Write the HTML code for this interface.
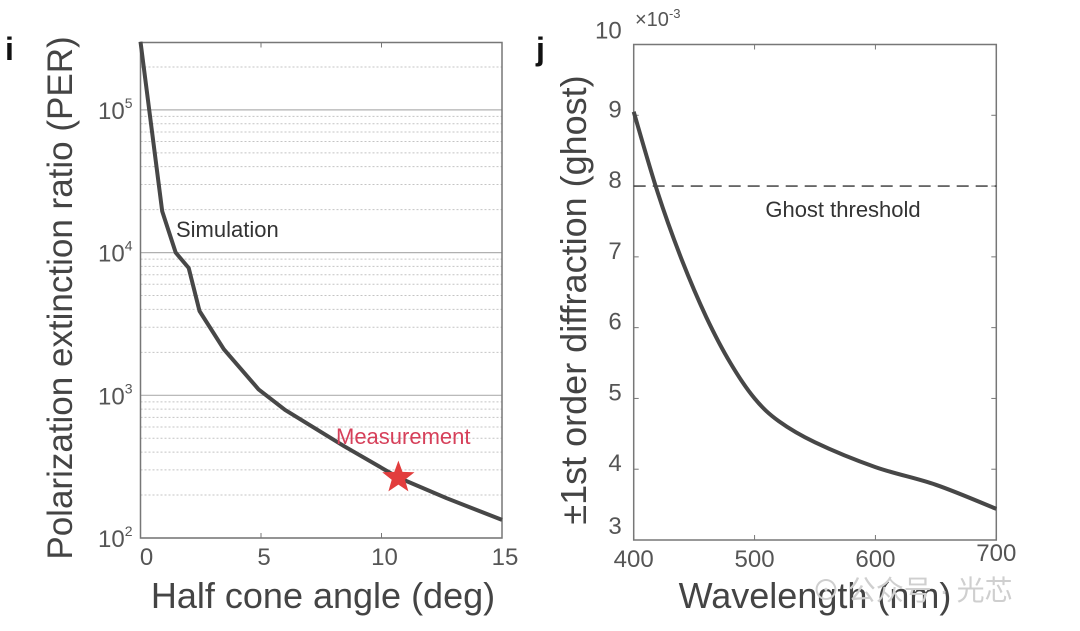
<!DOCTYPE html>
<html><head><meta charset="utf-8"><style>
body{margin:0;background:#fff;}
svg{display:block;font-family:"Liberation Sans","Noto Sans CJK SC",sans-serif;}
</style></head><body>
<svg id="fig" width="1080" height="631" viewBox="0 0 1080 631">
<g id="chartI"></g>
<g id="chartJ"></g>
<text x="812" y="600" font-size="28" fill="#cfcfcf">⊙ 公众号 · 光芯</text>
</svg>
<script>
// Chart i data
const anglesI = [0, 0.9, 1.46, 2.0, 2.45, 3.46, 4.9, 6.0, 8.45, 10.7, 12.7, 15];
const perI = [300000, 19500, 10000, 7800, 3900, 2100, 1100, 790, 440, 265, 190, 134];
const measAngle = [10.7];
const measPer = [265];
const xTicksI = [0, 5, 10, 15];
const yDecadesI = [2, 3, 4, 5];
// Chart j data
const wavelengthsJ = [400, 420, 440, 460, 480, 500, 520, 550, 600, 650, 700];
const ghostJ = [9.05, 7.9, 6.95, 6.15, 5.5, 5.0, 4.68, 4.38, 4.03, 3.78, 3.44];
const thresholdJ = [8];
const xTicksJ = [400, 500, 600, 700];
const yTicksJ = [3, 4, 5, 6, 7, 8, 9, 10];

const NS = "http://www.w3.org/2000/svg";
function mk(parent, tag, attrs, text) {
  const e = document.createElementNS(NS, tag);
  for (const k in attrs) e.setAttribute(k, attrs[k]);
  if (text !== undefined) e.textContent = text;
  parent.appendChild(e);
  return e;
}

// ---- Chart i ----
(function () {
  const g = document.getElementById('chartI');
  const L = 140.5, R = 502, T = 42.5, B = 538;
  const DEC = 142.7;
  const xs = v => L + (v - 0) / 15 * (R - L);
  const ys = v => B - (Math.log10(v) - 2) * DEC;
  yDecadesI.forEach(d => {
    for (let m = 1; m <= 9; m++) {
      const val = m * Math.pow(10, d);
      const y = ys(val);
      if (y < T || y > B) continue;
      const ln = mk(g, 'line', {x1: L, x2: R, y1: y, y2: y, stroke: m === 1 ? '#b0b0b0' : '#c4c4c4', 'stroke-width': m === 1 ? 1.2 : 1, 'stroke-dasharray': m === 1 ? '' : '2 2'});
      
      
    }
    const t = mk(g, 'text', {x: L - 8, y: ys(Math.pow(10, d)) + 9, 'text-anchor': 'end', 'font-size': 24, fill: '#555'});
    
    
    mk(t, 'tspan', {}, '10');
    mk(t, 'tspan', {dy: -11, 'font-size': 14}, String(d));
  });
  const box = mk(g, 'rect', {x: L, y: T, width: R - L, height: B - T, fill: 'none', stroke: '#777', 'stroke-width': 1.5});
  
  
  xTicksI.forEach(v => {
    mk(g, 'line', {x1: xs(v), x2: xs(v), y1: B, y2: B - 5, stroke: '#777'});
    mk(g, 'line', {x1: xs(v), x2: xs(v), y1: T, y2: T + 5, stroke: '#777'});
    const t = mk(g, 'text', {x: xs(v) + (v === 0 ? 6 : 3), y: B + 27, 'text-anchor': 'middle', 'font-size': 24, fill: '#555'}, String(v));
    
    
  });
  const d = anglesI.map((a, i) => (i ? 'L' : 'M') + xs(a).toFixed(1) + ',' + ys(perI[i]).toFixed(1)).join(' ');
  const p = mk(g, 'path', {d: d, fill: 'none', stroke: '#474747', 'stroke-width': 4, 'stroke-linejoin': 'round'});
  
  
  const cx = xs(measAngle[0]), cy = ys(measPer[0]);
  let pts = [];
  for (let k = 0; k < 10; k++) {
    const r = k % 2 ? 7 : 17, a = -Math.PI / 2 + k * Math.PI / 5;
    pts.push((cx + r * Math.cos(a)).toFixed(1) + ',' + (cy + r * Math.sin(a)).toFixed(1));
  }
  const st = mk(g, 'polygon', {points: pts.join(' '), fill: '#e23d3d'});
  
  
  const mt = mk(g, 'text', {x: 336, y: 444, 'font-size': 22, fill: '#d6405a'}, 'Measurement');
  
  
  const sm = mk(g, 'text', {x: 176, y: 237, 'font-size': 22, fill: '#333'}, 'Simulation');
  
  
  const yl = mk(g, 'text', {x: 0, y: 0, transform: 'translate(72,298) rotate(-90)', 'text-anchor': 'middle', 'font-size': 35, fill: '#444'}, 'Polarization extinction ratio (PER)');
  
  
  const xl = mk(g, 'text', {x: 323, y: 608, 'text-anchor': 'middle', 'font-size': 36, fill: '#444'}, 'Half cone angle (deg)');
  
  
  const pl = mk(g, 'text', {x: 5, y: 60, 'font-size': 32, 'font-weight': 'bold', fill: '#111'}, 'i');
  
  
})();

// ---- Chart j ----
(function () {
  const g = document.getElementById('chartJ');
  const L = 633.7, R = 996.3, T = 44.5, B = 540;
  const xs = v => L + (v - 400) / 300 * (R - L);
  const ys = v => B - (v - 3) / 7 * (B - T);
  const box = mk(g, 'rect', {x: L, y: T, width: R - L, height: B - T, fill: 'none', stroke: '#777', 'stroke-width': 1.5});
  
  
  yTicksJ.forEach(v => {
    mk(g, 'line', {x1: L, x2: L + 5, y1: ys(v), y2: ys(v), stroke: '#777'});
    mk(g, 'line', {x1: R, x2: R - 5, y1: ys(v), y2: ys(v), stroke: '#777'});
    const t = mk(g, 'text', {x: L - 12, y: ys(v) + (v === 10 ? -6 : v === 3 ? -6 : 2), 'text-anchor': 'end', 'font-size': 24, fill: '#555'}, String(v));
    
    
  });
  xTicksJ.forEach(v => {
    mk(g, 'line', {x1: xs(v), x2: xs(v), y1: B, y2: B - 5, stroke: '#777'});
    mk(g, 'line', {x1: xs(v), x2: xs(v), y1: T, y2: T + 5, stroke: '#777'});
    const t = mk(g, 'text', {x: xs(v), y: B + (v === 700 ? 21 : 27), 'text-anchor': 'middle', 'font-size': 24, fill: '#555'}, String(v));
    
    
  });
  const ex = mk(g, 'text', {x: 635, y: 26, 'font-size': 20, fill: '#555'});
  
  
  mk(ex, 'tspan', {}, '×10');
  mk(ex, 'tspan', {dy: -8, 'font-size': 13}, '-3');
  const th = mk(g, 'line', {x1: L, x2: R, y1: ys(thresholdJ[0]), y2: ys(thresholdJ[0]), stroke: '#333', 'stroke-width': 1.3, 'stroke-dasharray': '12 7'});
  
  
  const tt = mk(g, 'text', {x: 843, y: 217, 'text-anchor': 'middle', 'font-size': 22, fill: '#333'}, 'Ghost threshold');
  
  
  let d = 'M' + xs(wavelengthsJ[0]) + ',' + ys(ghostJ[0]);
  for (let i = 1; i < wavelengthsJ.length; i++) {
    const x0 = xs(wavelengthsJ[i - 1]), y0 = ys(ghostJ[i - 1]);
    const x1 = xs(wavelengthsJ[i]), y1 = ys(ghostJ[i]);
    const xm = xs(wavelengthsJ[Math.max(i - 2, 0)]), ym = ys(ghostJ[Math.max(i - 2, 0)]);
    const xp = xs(wavelengthsJ[Math.min(i + 1, wavelengthsJ.length - 1)]), yp = ys(ghostJ[Math.min(i + 1, wavelengthsJ.length - 1)]);
    const c1x = x0 + (x1 - xm) / 6, c1y = y0 + (y1 - ym) / 6;
    const c2x = x1 - (xp - x0) / 6, c2y = y1 - (yp - y0) / 6;
    d += ` C${c1x.toFixed(1)},${c1y.toFixed(1)} ${c2x.toFixed(1)},${c2y.toFixed(1)} ${x1.toFixed(1)},${y1.toFixed(1)}`;
  }
  const p = mk(g, 'path', {d: d, fill: 'none', stroke: '#474747', 'stroke-width': 4});
  
  
  const yl = mk(g, 'text', {x: 0, y: 0, transform: 'translate(586,300) rotate(-90)', 'text-anchor': 'middle', 'font-size': 36, fill: '#444'}, '±1st order diffraction (ghost)');
  
  
  const xl = mk(g, 'text', {x: 815, y: 608, 'text-anchor': 'middle', 'font-size': 36, fill: '#444'}, 'Wavelength (nm)');
  
  
  const pl = mk(g, 'text', {x: 536, y: 60, 'font-size': 32, 'font-weight': 'bold', fill: '#111'}, 'j');
  
  
})();
</script>
</body></html>
